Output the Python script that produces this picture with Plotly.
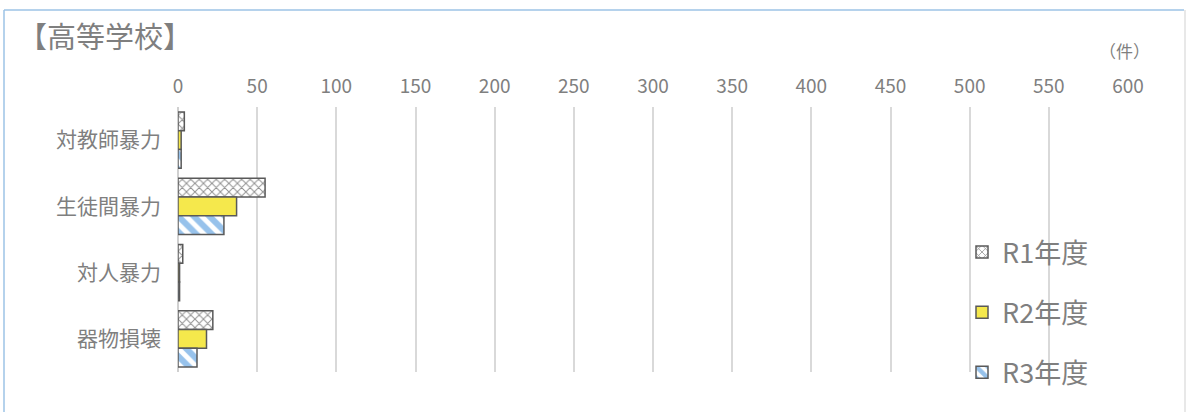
import plotly.graph_objects as go

categories = ["対教師暴力", "生徒間暴力", "対人暴力", "器物損壊"]
series_names = ["R1年度", "R2年度", "R3年度"]
r1_values = [4, 55, 3, 22]
r2_values = [2, 37, 1, 18]
r3_values = [2, 29, 1, 12]
x_ticks = [0, 50, 100, 150, 200, 250, 300, 350, 400, 450, 500, 550, 600]

W, H = 1186, 412
L, R, T, B = 178, 58, 107, 40
PW, PH = W - L - R, H - T - B

def px_x(px):
    return (px - L) / PW

def px_y(py):
    return (H - B - py) / PH

gray = "#7f7f7f"
font_fam = "Noto Sans CJK JP"

styles = [
    dict(color="white", line=dict(color="#595959", width=1.5),
         pattern=dict(shape="x", fgcolor="#222222", bgcolor="white", size=6, solidity=0.3)),
    dict(color="#f5e84c", line=dict(color="#595959", width=1.5)),
    dict(color="white", line=dict(color="#595959", width=1.5),
         pattern=dict(shape="\\", fgcolor="#2f86d8", bgcolor="white", size=11, solidity=0.55)),
]

fig = go.Figure()
for i, (name, vals) in enumerate(zip(series_names, [r1_values, r2_values, r3_values])):
    fig.add_trace(go.Bar(
        y=categories, x=vals, name=name, orientation="h",
        marker=styles[i], legendgroup=name,
    ))

fig.update_layout(
    width=W, height=H,
    margin=dict(l=L, r=R, t=T, b=B),
    paper_bgcolor="white", plot_bgcolor="white",
    barmode="group", bargap=0.15, bargroupgap=0,
    font=dict(family=font_fam, color=gray),
    showlegend=True,
    legend=dict(
        x=px_x(962), y=px_y(228), xanchor="left", yanchor="top",
        font=dict(size=27, color=gray, family=font_fam),
        traceorder="grouped", tracegroupgap=22,
        bgcolor="rgba(0,0,0,0)", itemwidth=30,
    ),
    xaxis=dict(
        side="top", range=[0, 600], tickvals=x_ticks,
        showgrid=True, gridcolor="#d9d9d9", gridwidth=1.5,
        zeroline=True, zerolinecolor="#d0d0d0", zerolinewidth=1.5,
        tickfont=dict(size=19, color=gray), ticklabelstandoff=9,
        showline=False, fixedrange=True,
    ),
    yaxis=dict(
        categoryorder="array", categoryarray=categories, autorange="reversed",
        tickfont=dict(size=21, color=gray), ticklabelstandoff=16,
        showgrid=False, showline=False, zeroline=False,
    ),
    annotations=[
        dict(text="【高等学校】", xref="paper", yref="paper",
             x=px_x(16), y=px_y(35), xanchor="left", yanchor="middle",
             showarrow=False, font=dict(size=29, color=gray, family=font_fam)),
        dict(text="（件）", xref="paper", yref="paper",
             x=px_x(1124), y=px_y(50), xanchor="center", yanchor="middle",
             showarrow=False, font=dict(size=17, color=gray, family=font_fam)),
    ],
    shapes=[
        dict(type="line", xref="paper", yref="paper",
             x0=px_x(4), x1=px_x(1184), y0=px_y(10), y1=px_y(10),
             line=dict(color="#9dc3e6", width=1.5)),
        dict(type="line", xref="paper", yref="paper",
             x0=px_x(4), x1=px_x(4), y0=px_y(10), y1=px_y(415),
             line=dict(color="#9dc3e6", width=1.5)),
        dict(type="line", xref="paper", yref="paper",
             x0=px_x(1185), x1=px_x(1185), y0=px_y(10), y1=px_y(415),
             line=dict(color="#e0e0e0", width=1.5)),
    ],
)

fig.write_html("out.html")
